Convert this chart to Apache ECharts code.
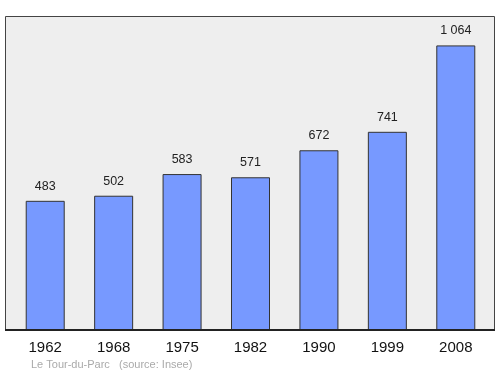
<!DOCTYPE html>
<html><head><meta charset="utf-8">
<script src="https://cdn.jsdelivr.net/npm/echarts@6/dist/echarts.min.js"></script>
<style>html,body{margin:0;padding:0;background:#fff}#c{width:500px;height:374px}</style>
</head><body><div id="c"></div>
<script>
var years = ['1962','1968','1975','1982','1990','1999','2008'];
var population = [483, 502, 583, 571, 672, 741, 1064];
var chart = echarts.init(document.getElementById('c'), null, {renderer:'canvas'});
chart.setOption({
  animation:false,
  grid:{left:11, width:479, top:16, height:314},
  graphic:[
    {type:'rect', z:-10, shape:{x:5.5,y:16.5,width:489,height:313}, style:{fill:'#eeeeee', stroke:'#444', lineWidth:1}},
    {type:'line', z:100, shape:{x1:5,y1:330,x2:495,y2:330}, style:{stroke:'#222', lineWidth:2}},
    {type:'text', left:31, top:359, style:{text:'Le Tour-du-Parc   (source: Insee)', fill:'#aaaaaa', font:'11px "Liberation Sans", Arial, sans-serif'}}
  ],
  xAxis:{type:'category', data:years, axisLine:{show:false}, axisTick:{show:false},
    axisLabel:{color:'#111', fontSize:15, fontFamily:'"Liberation Sans", Arial, sans-serif', margin:10}},
  yAxis:{type:'value', min:0, max:1174, show:false, splitLine:{show:false}},
  series:[{type:'bar', data:population, barWidth:39,
    itemStyle:{color:'#7799ff', borderColor:'#333', borderWidth:1},
    label:{show:true, position:'top', distance:8, color:'#222', fontSize:12.5, fontFamily:'"Liberation Sans", Arial, sans-serif',
      formatter:function(p){return String(p.value).replace(/\B(?=(\d{3})+(?!\d))/g,' ');}}
  }]
});
</script></body></html>
